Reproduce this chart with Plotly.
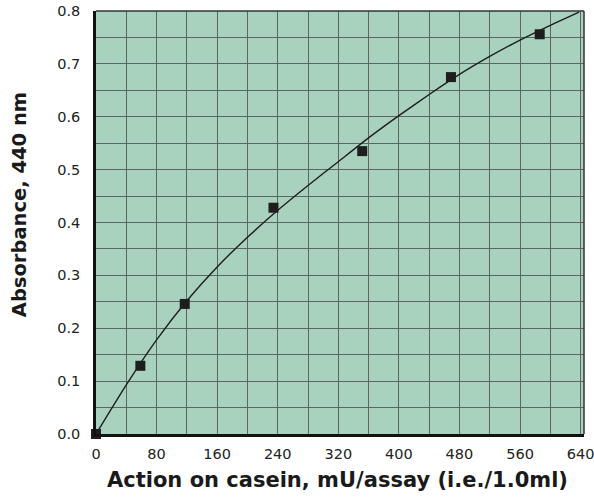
import plotly.graph_objects as go

# Measured points
activity = [0, 58.6, 117.2, 234.4, 351.6, 468.8, 586]
absorbance = [0.0, 0.129, 0.246, 0.428, 0.535, 0.675, 0.756]

# Standard curve
curve_x = [0, 40, 80, 120, 160, 200, 240, 280, 320, 360, 400, 440, 480, 520, 560, 600, 638]
curve_y = [0.0, 0.093, 0.178, 0.252, 0.316, 0.372, 0.423, 0.470, 0.515, 0.560,
           0.602, 0.642, 0.680, 0.714, 0.745, 0.773, 0.798]

x_ticks = [0, 80, 160, 240, 320, 400, 480, 560, 640]
y_ticks = [0.0, 0.1, 0.2, 0.3, 0.4, 0.5, 0.6, 0.7, 0.8]
y_tick_text = ["0.0", "0.1", "0.2", "0.3", "0.4", "0.5", "0.6", "0.7", "0.8"]

x_title = "Action on casein, mU/assay (i.e./1.0ml)"
y_title = "Absorbance, 440 nm"

fig = go.Figure()
fig.add_trace(go.Scatter(x=curve_x, y=curve_y, mode="lines",
                         line=dict(color="#1e1e1e", width=1.4, shape="spline", smoothing=0.6),
                         hoverinfo="skip", cliponaxis=False))
fig.add_trace(go.Scatter(x=activity, y=absorbance, mode="markers",
                         marker=dict(symbol="square", size=10, color="#1e1e1e",
                                     line=dict(width=0)),
                         cliponaxis=False))

grid_col = "#5a6660"
tick_font = dict(family="DejaVu Sans, sans-serif", size=14.5, color="#222222")

fig.update_layout(
    width=594, height=498,
    margin=dict(l=96, r=10, t=11, b=64),
    paper_bgcolor="white",
    plot_bgcolor="#a8d1be",
    showlegend=False,
    xaxis=dict(range=[0, 644.5], tickvals=x_ticks, ticktext=[str(v) for v in x_ticks],
               showgrid=True, gridcolor=grid_col, gridwidth=1,
               minor=dict(dtick=40, tick0=0, showgrid=True, gridcolor=grid_col, gridwidth=1),
               zeroline=False, showline=True, linecolor="#111111", linewidth=2.5,
               ticks="", tickfont=tick_font, ticklabelstandoff=5, automargin=False,
               ticklabeloverflow="allow", fixedrange=True),
    yaxis=dict(range=[0, 0.8], tickvals=y_ticks, ticktext=y_tick_text,
               showgrid=True, gridcolor=grid_col, gridwidth=1,
               minor=dict(dtick=0.05, tick0=0, showgrid=True, gridcolor=grid_col, gridwidth=1),
               zeroline=False, showline=True, linecolor="#111111", linewidth=2.5,
               ticks="", tickfont=tick_font, ticklabelstandoff=10, automargin=False,
               ticklabeloverflow="allow", fixedrange=True),
    shapes=[
        dict(type="line", xref="paper", yref="paper", x0=0, x1=1, y0=1, y1=1,
             line=dict(color="#333333", width=1.5)),
        dict(type="line", xref="paper", yref="paper", x0=1, x1=1, y0=0, y1=1,
             line=dict(color="#333333", width=1.5)),
    ],
    annotations=[
        dict(text="<b>" + x_title + "</b>", xref="paper", yref="paper",
             x=0.495, y=-0.109, xanchor="center", yanchor="middle", showarrow=False,
             font=dict(family="DejaVu Sans, sans-serif", size=21, color="#1a1a1a")),
        dict(text="<b>" + y_title + "</b>", xref="paper", yref="paper",
             x=-0.158, y=0.543, xanchor="center", yanchor="middle", showarrow=False,
             textangle=-90,
             font=dict(family="DejaVu Sans, sans-serif", size=19.5, color="#1a1a1a")),
    ],
)

fig.write_html("out.html")
